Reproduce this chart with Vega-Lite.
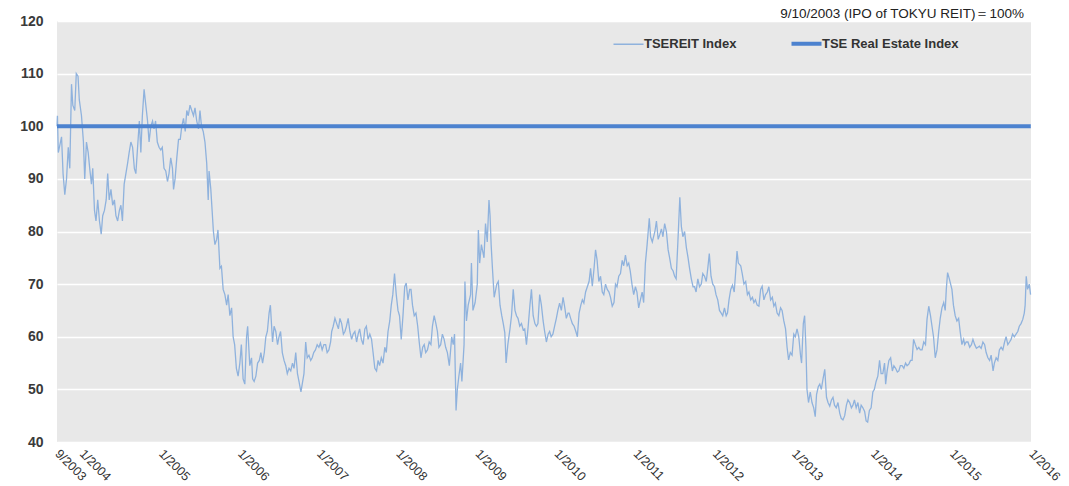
{
  "$schema": "https://vega.github.io/schema/vega-lite/v6.json",
  "width": 974,
  "height": 421,
  "autosize": {"type": "none"},
  "padding": {"left": 57, "top": 21, "right": 38, "bottom": 44},
  "background": "white",
  "config": {
    "view": {"fill": "#e8e8e8", "stroke": null},
    "font": "Liberation Sans"
  },
  "title": {
    "text": "9/10/2003 (IPO of TOKYU  REIT)＝100%",
    "anchor": "end",
    "frame": "group",
    "orient": "top",
    "offset": 3,
    "dx": -7,
    "dy": 9,
    "fontSize": 13.5,
    "fontWeight": "normal",
    "font": "Liberation Sans",
    "color": "#222222"
  },
  "datasets": {
    "reit": [
      {"date": "2003-09-10", "value": 100},
      {"date": "2003-09-12", "value": 102},
      {"date": "2003-09-16", "value": 95},
      {"date": "2003-10-01", "value": 98},
      {"date": "2003-10-08", "value": 91},
      {"date": "2003-10-16", "value": 87},
      {"date": "2003-10-24", "value": 90},
      {"date": "2003-11-01", "value": 96},
      {"date": "2003-11-08", "value": 92},
      {"date": "2003-11-16", "value": 108},
      {"date": "2003-11-22", "value": 104},
      {"date": "2003-12-01", "value": 103},
      {"date": "2003-12-08", "value": 110},
      {"date": "2003-12-16", "value": 109.5},
      {"date": "2003-12-22", "value": 105},
      {"date": "2004-01-01", "value": 102},
      {"date": "2004-01-10", "value": 97},
      {"date": "2004-01-16", "value": 90},
      {"date": "2004-01-24", "value": 97},
      {"date": "2004-02-01", "value": 95},
      {"date": "2004-02-08", "value": 92},
      {"date": "2004-02-16", "value": 89},
      {"date": "2004-02-22", "value": 92},
      {"date": "2004-03-01", "value": 84},
      {"date": "2004-03-08", "value": 82},
      {"date": "2004-03-16", "value": 86},
      {"date": "2004-03-24", "value": 82},
      {"date": "2004-04-01", "value": 79.5},
      {"date": "2004-04-08", "value": 83},
      {"date": "2004-04-16", "value": 84},
      {"date": "2004-04-24", "value": 86},
      {"date": "2004-05-01", "value": 91},
      {"date": "2004-05-08", "value": 86},
      {"date": "2004-05-16", "value": 88},
      {"date": "2004-05-24", "value": 85},
      {"date": "2004-06-01", "value": 86},
      {"date": "2004-06-08", "value": 83},
      {"date": "2004-06-16", "value": 82},
      {"date": "2004-06-24", "value": 84},
      {"date": "2004-07-01", "value": 85},
      {"date": "2004-07-08", "value": 82},
      {"date": "2004-07-16", "value": 89},
      {"date": "2004-07-24", "value": 91},
      {"date": "2004-08-01", "value": 93},
      {"date": "2004-08-08", "value": 95},
      {"date": "2004-08-16", "value": 97},
      {"date": "2004-08-24", "value": 96},
      {"date": "2004-09-01", "value": 92},
      {"date": "2004-09-08", "value": 91},
      {"date": "2004-09-16", "value": 96},
      {"date": "2004-09-24", "value": 101},
      {"date": "2004-10-01", "value": 95},
      {"date": "2004-10-08", "value": 102},
      {"date": "2004-10-16", "value": 107},
      {"date": "2004-10-24", "value": 104},
      {"date": "2004-11-01", "value": 101},
      {"date": "2004-11-08", "value": 97},
      {"date": "2004-11-16", "value": 100},
      {"date": "2004-11-24", "value": 101},
      {"date": "2004-12-01", "value": 99.5},
      {"date": "2004-12-08", "value": 101},
      {"date": "2004-12-16", "value": 97},
      {"date": "2004-12-24", "value": 96},
      {"date": "2005-01-01", "value": 95.5},
      {"date": "2005-01-08", "value": 96},
      {"date": "2005-01-16", "value": 92},
      {"date": "2005-01-24", "value": 91.5},
      {"date": "2005-02-01", "value": 89.5},
      {"date": "2005-02-08", "value": 91},
      {"date": "2005-02-16", "value": 94},
      {"date": "2005-02-24", "value": 92},
      {"date": "2005-03-01", "value": 88},
      {"date": "2005-03-08", "value": 90},
      {"date": "2005-03-16", "value": 94},
      {"date": "2005-03-24", "value": 97.5},
      {"date": "2005-04-01", "value": 97.5},
      {"date": "2005-04-08", "value": 100},
      {"date": "2005-04-16", "value": 101.5},
      {"date": "2005-04-24", "value": 99},
      {"date": "2005-05-01", "value": 103},
      {"date": "2005-05-08", "value": 102},
      {"date": "2005-05-16", "value": 104},
      {"date": "2005-05-24", "value": 103},
      {"date": "2005-06-01", "value": 102},
      {"date": "2005-06-08", "value": 103.5},
      {"date": "2005-06-16", "value": 101},
      {"date": "2005-06-24", "value": 99.5},
      {"date": "2005-07-01", "value": 103},
      {"date": "2005-07-08", "value": 100},
      {"date": "2005-07-16", "value": 99},
      {"date": "2005-07-24", "value": 97},
      {"date": "2005-08-01", "value": 93},
      {"date": "2005-08-08", "value": 86},
      {"date": "2005-08-12", "value": 91.5},
      {"date": "2005-08-20", "value": 88},
      {"date": "2005-09-01", "value": 80},
      {"date": "2005-09-08", "value": 77.5},
      {"date": "2005-09-16", "value": 78.5},
      {"date": "2005-09-22", "value": 80.3},
      {"date": "2005-10-01", "value": 73},
      {"date": "2005-10-08", "value": 73.4},
      {"date": "2005-10-16", "value": 69},
      {"date": "2005-10-24", "value": 68},
      {"date": "2005-11-01", "value": 66},
      {"date": "2005-11-08", "value": 68},
      {"date": "2005-11-16", "value": 64},
      {"date": "2005-11-24", "value": 65.5},
      {"date": "2005-12-01", "value": 60},
      {"date": "2005-12-08", "value": 58.5},
      {"date": "2005-12-16", "value": 54},
      {"date": "2005-12-24", "value": 52.5},
      {"date": "2006-01-01", "value": 55},
      {"date": "2006-01-08", "value": 58.5},
      {"date": "2006-01-16", "value": 52},
      {"date": "2006-01-24", "value": 51},
      {"date": "2006-02-01", "value": 60},
      {"date": "2006-02-06", "value": 62},
      {"date": "2006-02-16", "value": 54.5},
      {"date": "2006-02-24", "value": 56},
      {"date": "2006-03-01", "value": 52},
      {"date": "2006-03-08", "value": 51.5},
      {"date": "2006-03-16", "value": 52.5},
      {"date": "2006-03-24", "value": 55},
      {"date": "2006-04-01", "value": 55.5},
      {"date": "2006-04-08", "value": 57},
      {"date": "2006-04-16", "value": 55},
      {"date": "2006-04-24", "value": 57},
      {"date": "2006-05-01", "value": 60},
      {"date": "2006-05-08", "value": 61},
      {"date": "2006-05-16", "value": 64.5},
      {"date": "2006-05-22", "value": 66},
      {"date": "2006-06-01", "value": 59},
      {"date": "2006-06-08", "value": 62},
      {"date": "2006-06-16", "value": 61},
      {"date": "2006-06-24", "value": 58.5},
      {"date": "2006-07-01", "value": 60},
      {"date": "2006-07-08", "value": 61},
      {"date": "2006-07-16", "value": 57},
      {"date": "2006-07-24", "value": 55.5},
      {"date": "2006-08-01", "value": 54.5},
      {"date": "2006-08-08", "value": 53},
      {"date": "2006-08-16", "value": 54},
      {"date": "2006-08-24", "value": 53.5},
      {"date": "2006-09-01", "value": 55},
      {"date": "2006-09-08", "value": 54},
      {"date": "2006-09-16", "value": 57},
      {"date": "2006-09-24", "value": 53},
      {"date": "2006-10-01", "value": 51.5},
      {"date": "2006-10-10", "value": 49.5},
      {"date": "2006-10-16", "value": 51},
      {"date": "2006-10-24", "value": 53},
      {"date": "2006-11-01", "value": 59},
      {"date": "2006-11-08", "value": 56},
      {"date": "2006-11-16", "value": 56.5},
      {"date": "2006-11-24", "value": 55.5},
      {"date": "2006-12-01", "value": 56},
      {"date": "2006-12-08", "value": 57},
      {"date": "2006-12-16", "value": 57.5},
      {"date": "2006-12-24", "value": 58.5},
      {"date": "2007-01-01", "value": 58},
      {"date": "2007-01-08", "value": 58.8},
      {"date": "2007-01-16", "value": 57.5},
      {"date": "2007-01-24", "value": 58.5},
      {"date": "2007-02-01", "value": 58.5},
      {"date": "2007-02-08", "value": 57},
      {"date": "2007-02-16", "value": 57.5},
      {"date": "2007-02-24", "value": 59},
      {"date": "2007-03-01", "value": 61},
      {"date": "2007-03-08", "value": 62},
      {"date": "2007-03-16", "value": 63.5},
      {"date": "2007-03-24", "value": 62.5},
      {"date": "2007-04-01", "value": 61.5},
      {"date": "2007-04-08", "value": 63.5},
      {"date": "2007-04-16", "value": 62.5},
      {"date": "2007-04-24", "value": 60.5},
      {"date": "2007-05-01", "value": 61},
      {"date": "2007-05-08", "value": 62},
      {"date": "2007-05-16", "value": 63.5},
      {"date": "2007-05-24", "value": 61},
      {"date": "2007-06-01", "value": 59.5},
      {"date": "2007-06-08", "value": 60.5},
      {"date": "2007-06-16", "value": 61},
      {"date": "2007-06-24", "value": 59},
      {"date": "2007-07-01", "value": 60.5},
      {"date": "2007-07-08", "value": 61.5},
      {"date": "2007-07-16", "value": 59.5},
      {"date": "2007-07-24", "value": 58.5},
      {"date": "2007-08-01", "value": 61.5},
      {"date": "2007-08-08", "value": 62},
      {"date": "2007-08-16", "value": 59.5},
      {"date": "2007-08-24", "value": 60.5},
      {"date": "2007-09-01", "value": 59.5},
      {"date": "2007-09-08", "value": 57},
      {"date": "2007-09-16", "value": 54},
      {"date": "2007-09-24", "value": 53.5},
      {"date": "2007-10-01", "value": 55.5},
      {"date": "2007-10-08", "value": 54.5},
      {"date": "2007-10-16", "value": 56},
      {"date": "2007-10-24", "value": 55},
      {"date": "2007-11-01", "value": 58},
      {"date": "2007-11-08", "value": 57},
      {"date": "2007-11-16", "value": 61},
      {"date": "2007-11-24", "value": 63},
      {"date": "2007-12-01", "value": 66},
      {"date": "2007-12-08", "value": 68},
      {"date": "2007-12-16", "value": 72},
      {"date": "2007-12-24", "value": 68},
      {"date": "2008-01-01", "value": 65},
      {"date": "2008-01-08", "value": 64},
      {"date": "2008-01-16", "value": 59.5},
      {"date": "2008-01-24", "value": 64},
      {"date": "2008-02-01", "value": 69.5},
      {"date": "2008-02-08", "value": 70.2},
      {"date": "2008-02-16", "value": 67},
      {"date": "2008-02-24", "value": 69},
      {"date": "2008-03-01", "value": 69},
      {"date": "2008-03-08", "value": 66},
      {"date": "2008-03-16", "value": 64},
      {"date": "2008-03-24", "value": 64.5},
      {"date": "2008-04-01", "value": 62},
      {"date": "2008-04-08", "value": 59},
      {"date": "2008-04-16", "value": 56},
      {"date": "2008-04-24", "value": 58},
      {"date": "2008-05-01", "value": 58.5},
      {"date": "2008-05-08", "value": 57},
      {"date": "2008-05-16", "value": 57.5},
      {"date": "2008-05-24", "value": 59},
      {"date": "2008-06-01", "value": 58.5},
      {"date": "2008-06-08", "value": 62},
      {"date": "2008-06-16", "value": 64},
      {"date": "2008-06-24", "value": 62.5},
      {"date": "2008-07-01", "value": 61},
      {"date": "2008-07-08", "value": 58},
      {"date": "2008-07-16", "value": 58.5},
      {"date": "2008-07-24", "value": 60.5},
      {"date": "2008-08-01", "value": 59.5},
      {"date": "2008-08-08", "value": 58},
      {"date": "2008-08-16", "value": 57},
      {"date": "2008-08-25", "value": 54.5},
      {"date": "2008-09-05", "value": 60},
      {"date": "2008-09-12", "value": 58.5},
      {"date": "2008-09-18", "value": 60.5},
      {"date": "2008-09-25", "value": 46},
      {"date": "2008-10-01", "value": 50},
      {"date": "2008-10-08", "value": 52.5},
      {"date": "2008-10-16", "value": 55},
      {"date": "2008-10-22", "value": 51.5},
      {"date": "2008-11-01", "value": 58.5},
      {"date": "2008-11-05", "value": 70.5},
      {"date": "2008-11-12", "value": 63},
      {"date": "2008-11-20", "value": 66},
      {"date": "2008-12-01", "value": 68},
      {"date": "2008-12-05", "value": 74},
      {"date": "2008-12-12", "value": 65},
      {"date": "2008-12-22", "value": 66.5},
      {"date": "2009-01-01", "value": 70},
      {"date": "2009-01-06", "value": 80.3},
      {"date": "2009-01-12", "value": 74},
      {"date": "2009-01-20", "value": 77.5},
      {"date": "2009-02-01", "value": 75},
      {"date": "2009-02-08", "value": 81.5},
      {"date": "2009-02-16", "value": 78},
      {"date": "2009-02-24", "value": 86},
      {"date": "2009-03-01", "value": 83},
      {"date": "2009-03-06", "value": 77.5},
      {"date": "2009-03-12", "value": 73},
      {"date": "2009-03-20", "value": 67.5},
      {"date": "2009-04-01", "value": 70},
      {"date": "2009-04-08", "value": 70.5},
      {"date": "2009-04-16", "value": 66},
      {"date": "2009-04-24", "value": 64},
      {"date": "2009-05-01", "value": 62.5},
      {"date": "2009-05-08", "value": 60.8},
      {"date": "2009-05-14", "value": 55},
      {"date": "2009-05-22", "value": 58.5},
      {"date": "2009-06-01", "value": 61.5},
      {"date": "2009-06-08", "value": 64},
      {"date": "2009-06-16", "value": 69},
      {"date": "2009-06-24", "value": 65},
      {"date": "2009-07-01", "value": 64},
      {"date": "2009-07-08", "value": 63.5},
      {"date": "2009-07-16", "value": 62},
      {"date": "2009-07-24", "value": 62.5},
      {"date": "2009-08-01", "value": 61.3},
      {"date": "2009-08-08", "value": 61.5},
      {"date": "2009-08-16", "value": 58.5},
      {"date": "2009-08-24", "value": 62},
      {"date": "2009-09-01", "value": 66},
      {"date": "2009-09-08", "value": 69},
      {"date": "2009-09-16", "value": 64},
      {"date": "2009-09-24", "value": 62.5},
      {"date": "2009-10-01", "value": 62},
      {"date": "2009-10-08", "value": 62.5},
      {"date": "2009-10-16", "value": 68},
      {"date": "2009-10-24", "value": 66},
      {"date": "2009-11-01", "value": 63},
      {"date": "2009-11-08", "value": 61},
      {"date": "2009-11-16", "value": 59},
      {"date": "2009-11-24", "value": 60.5},
      {"date": "2009-12-01", "value": 61},
      {"date": "2009-12-08", "value": 60},
      {"date": "2009-12-16", "value": 60.5},
      {"date": "2009-12-24", "value": 62},
      {"date": "2010-01-01", "value": 63.5},
      {"date": "2010-01-08", "value": 65},
      {"date": "2010-01-16", "value": 66.4},
      {"date": "2010-01-24", "value": 65},
      {"date": "2010-02-01", "value": 67.5},
      {"date": "2010-02-08", "value": 65.8},
      {"date": "2010-02-16", "value": 63.5},
      {"date": "2010-02-24", "value": 64.5},
      {"date": "2010-03-01", "value": 64.5},
      {"date": "2010-03-08", "value": 63.5},
      {"date": "2010-03-16", "value": 62.5},
      {"date": "2010-03-24", "value": 62},
      {"date": "2010-04-01", "value": 61},
      {"date": "2010-04-08", "value": 60},
      {"date": "2010-04-16", "value": 64.5},
      {"date": "2010-04-24", "value": 66},
      {"date": "2010-05-01", "value": 67},
      {"date": "2010-05-08", "value": 66.4},
      {"date": "2010-05-16", "value": 68.5},
      {"date": "2010-05-24", "value": 69.5},
      {"date": "2010-06-01", "value": 70.5},
      {"date": "2010-06-08", "value": 73},
      {"date": "2010-06-16", "value": 69.6},
      {"date": "2010-06-24", "value": 73},
      {"date": "2010-07-01", "value": 76.5},
      {"date": "2010-07-08", "value": 74.6},
      {"date": "2010-07-16", "value": 70.5},
      {"date": "2010-07-24", "value": 71.5},
      {"date": "2010-08-01", "value": 68.5},
      {"date": "2010-08-08", "value": 68},
      {"date": "2010-08-16", "value": 70},
      {"date": "2010-08-24", "value": 69},
      {"date": "2010-09-01", "value": 68.5},
      {"date": "2010-09-08", "value": 67.5},
      {"date": "2010-09-16", "value": 65.8},
      {"date": "2010-09-24", "value": 66.5},
      {"date": "2010-10-01", "value": 70},
      {"date": "2010-10-08", "value": 69.5},
      {"date": "2010-10-16", "value": 71.5},
      {"date": "2010-10-24", "value": 72},
      {"date": "2010-11-01", "value": 74.5},
      {"date": "2010-11-08", "value": 73.5},
      {"date": "2010-11-16", "value": 75.5},
      {"date": "2010-11-24", "value": 73.5},
      {"date": "2010-12-01", "value": 74},
      {"date": "2010-12-08", "value": 72.5},
      {"date": "2010-12-16", "value": 70},
      {"date": "2010-12-24", "value": 68},
      {"date": "2011-01-01", "value": 69.5},
      {"date": "2011-01-08", "value": 68.5},
      {"date": "2011-01-16", "value": 65.5},
      {"date": "2011-01-24", "value": 67},
      {"date": "2011-02-01", "value": 68.5},
      {"date": "2011-02-08", "value": 66.5},
      {"date": "2011-02-16", "value": 74},
      {"date": "2011-02-24", "value": 77.5},
      {"date": "2011-03-01", "value": 80},
      {"date": "2011-03-06", "value": 82.5},
      {"date": "2011-03-12", "value": 79},
      {"date": "2011-03-20", "value": 78},
      {"date": "2011-04-01", "value": 80},
      {"date": "2011-04-08", "value": 82},
      {"date": "2011-04-16", "value": 78.5},
      {"date": "2011-04-24", "value": 79.5},
      {"date": "2011-05-01", "value": 80.5},
      {"date": "2011-05-08", "value": 79},
      {"date": "2011-05-16", "value": 81.5},
      {"date": "2011-05-24", "value": 80},
      {"date": "2011-06-01", "value": 76.5},
      {"date": "2011-06-08", "value": 75},
      {"date": "2011-06-16", "value": 73},
      {"date": "2011-06-24", "value": 72.5},
      {"date": "2011-07-01", "value": 71.5},
      {"date": "2011-07-08", "value": 71},
      {"date": "2011-07-16", "value": 78},
      {"date": "2011-07-25", "value": 86.5},
      {"date": "2011-08-01", "value": 81},
      {"date": "2011-08-08", "value": 79},
      {"date": "2011-08-16", "value": 80},
      {"date": "2011-08-24", "value": 77},
      {"date": "2011-09-01", "value": 75},
      {"date": "2011-09-08", "value": 73},
      {"date": "2011-09-16", "value": 71},
      {"date": "2011-09-24", "value": 69.5},
      {"date": "2011-10-01", "value": 69.5},
      {"date": "2011-10-08", "value": 68.5},
      {"date": "2011-10-16", "value": 71},
      {"date": "2011-10-24", "value": 69.5},
      {"date": "2011-11-01", "value": 70},
      {"date": "2011-11-08", "value": 72},
      {"date": "2011-11-16", "value": 71.5},
      {"date": "2011-11-24", "value": 70.5},
      {"date": "2011-12-01", "value": 73},
      {"date": "2011-12-08", "value": 75.8},
      {"date": "2011-12-16", "value": 71.5},
      {"date": "2011-12-24", "value": 70},
      {"date": "2012-01-01", "value": 69.5},
      {"date": "2012-01-08", "value": 68},
      {"date": "2012-01-16", "value": 67},
      {"date": "2012-01-24", "value": 65},
      {"date": "2012-02-01", "value": 64.5},
      {"date": "2012-02-08", "value": 64},
      {"date": "2012-02-16", "value": 65.5},
      {"date": "2012-02-24", "value": 64},
      {"date": "2012-03-01", "value": 64.5},
      {"date": "2012-03-08", "value": 67},
      {"date": "2012-03-16", "value": 69},
      {"date": "2012-03-24", "value": 69.8},
      {"date": "2012-04-01", "value": 68.5},
      {"date": "2012-04-08", "value": 72.5},
      {"date": "2012-04-14", "value": 76.3},
      {"date": "2012-04-20", "value": 74},
      {"date": "2012-05-01", "value": 73.5},
      {"date": "2012-05-08", "value": 72},
      {"date": "2012-05-16", "value": 70},
      {"date": "2012-05-24", "value": 70.5},
      {"date": "2012-06-01", "value": 68},
      {"date": "2012-06-08", "value": 68.5},
      {"date": "2012-06-16", "value": 67},
      {"date": "2012-06-24", "value": 67.5},
      {"date": "2012-07-01", "value": 66.5},
      {"date": "2012-07-08", "value": 67},
      {"date": "2012-07-16", "value": 66},
      {"date": "2012-07-24", "value": 65.8},
      {"date": "2012-08-01", "value": 69},
      {"date": "2012-08-08", "value": 69.6},
      {"date": "2012-08-16", "value": 67},
      {"date": "2012-08-24", "value": 68},
      {"date": "2012-09-01", "value": 68.5},
      {"date": "2012-09-08", "value": 69.5},
      {"date": "2012-09-16", "value": 67},
      {"date": "2012-09-24", "value": 67.5},
      {"date": "2012-10-01", "value": 65.8},
      {"date": "2012-10-08", "value": 66.4},
      {"date": "2012-10-16", "value": 64.5},
      {"date": "2012-10-24", "value": 64},
      {"date": "2012-11-01", "value": 65.5},
      {"date": "2012-11-08", "value": 65},
      {"date": "2012-11-16", "value": 63},
      {"date": "2012-11-24", "value": 61.5},
      {"date": "2012-12-01", "value": 58},
      {"date": "2012-12-08", "value": 55.6},
      {"date": "2012-12-16", "value": 57},
      {"date": "2012-12-24", "value": 56.5},
      {"date": "2013-01-01", "value": 60.5},
      {"date": "2013-01-08", "value": 60},
      {"date": "2013-01-16", "value": 61.5},
      {"date": "2013-01-24", "value": 60},
      {"date": "2013-02-01", "value": 56.5},
      {"date": "2013-02-06", "value": 55},
      {"date": "2013-02-14", "value": 62.5},
      {"date": "2013-02-20", "value": 64},
      {"date": "2013-02-26", "value": 58},
      {"date": "2013-03-03", "value": 50},
      {"date": "2013-03-10", "value": 47.5},
      {"date": "2013-03-18", "value": 49.5},
      {"date": "2013-03-26", "value": 47.5},
      {"date": "2013-04-03", "value": 46.5},
      {"date": "2013-04-10", "value": 44.8},
      {"date": "2013-04-16", "value": 49},
      {"date": "2013-04-24", "value": 50.5},
      {"date": "2013-05-01", "value": 51},
      {"date": "2013-05-08", "value": 50},
      {"date": "2013-05-16", "value": 52},
      {"date": "2013-05-24", "value": 53.8},
      {"date": "2013-06-01", "value": 48.5},
      {"date": "2013-06-08", "value": 47.5},
      {"date": "2013-06-16", "value": 46.8},
      {"date": "2013-06-24", "value": 48},
      {"date": "2013-07-01", "value": 48.5},
      {"date": "2013-07-08", "value": 47},
      {"date": "2013-07-16", "value": 46.5},
      {"date": "2013-07-24", "value": 47.5},
      {"date": "2013-08-01", "value": 45.5},
      {"date": "2013-08-08", "value": 44.5},
      {"date": "2013-08-16", "value": 44.2},
      {"date": "2013-08-24", "value": 45},
      {"date": "2013-09-01", "value": 47},
      {"date": "2013-09-08", "value": 48},
      {"date": "2013-09-16", "value": 47.5},
      {"date": "2013-09-24", "value": 46.5},
      {"date": "2013-10-01", "value": 47},
      {"date": "2013-10-08", "value": 48},
      {"date": "2013-10-16", "value": 46.5},
      {"date": "2013-10-24", "value": 47.5},
      {"date": "2013-11-01", "value": 45.5},
      {"date": "2013-11-08", "value": 47},
      {"date": "2013-11-16", "value": 46.5},
      {"date": "2013-11-24", "value": 45.8},
      {"date": "2013-12-01", "value": 44},
      {"date": "2013-12-08", "value": 43.8},
      {"date": "2013-12-16", "value": 46},
      {"date": "2013-12-24", "value": 46.5},
      {"date": "2014-01-01", "value": 49.5},
      {"date": "2014-01-08", "value": 50},
      {"date": "2014-01-16", "value": 51.5},
      {"date": "2014-01-24", "value": 52.5},
      {"date": "2014-02-01", "value": 55.5},
      {"date": "2014-02-08", "value": 53},
      {"date": "2014-02-16", "value": 53},
      {"date": "2014-02-24", "value": 55},
      {"date": "2014-03-01", "value": 51},
      {"date": "2014-03-08", "value": 53.5},
      {"date": "2014-03-16", "value": 55.5},
      {"date": "2014-03-24", "value": 56},
      {"date": "2014-04-01", "value": 53.5},
      {"date": "2014-04-08", "value": 54.5},
      {"date": "2014-04-16", "value": 54},
      {"date": "2014-04-24", "value": 53.3},
      {"date": "2014-05-01", "value": 53.5},
      {"date": "2014-05-08", "value": 54.5},
      {"date": "2014-05-16", "value": 54.5},
      {"date": "2014-05-24", "value": 54},
      {"date": "2014-06-01", "value": 55},
      {"date": "2014-06-08", "value": 54.5},
      {"date": "2014-06-16", "value": 54.8},
      {"date": "2014-06-24", "value": 55.5},
      {"date": "2014-07-01", "value": 55.5},
      {"date": "2014-07-08", "value": 59.5},
      {"date": "2014-07-16", "value": 58.5},
      {"date": "2014-07-24", "value": 57.6},
      {"date": "2014-08-01", "value": 58},
      {"date": "2014-08-08", "value": 57.5},
      {"date": "2014-08-16", "value": 57.5},
      {"date": "2014-08-24", "value": 59},
      {"date": "2014-09-01", "value": 58.5},
      {"date": "2014-09-08", "value": 63.3},
      {"date": "2014-09-16", "value": 65.8},
      {"date": "2014-09-24", "value": 64},
      {"date": "2014-10-01", "value": 62},
      {"date": "2014-10-08", "value": 60},
      {"date": "2014-10-16", "value": 56},
      {"date": "2014-10-24", "value": 57.5},
      {"date": "2014-11-01", "value": 61},
      {"date": "2014-11-08", "value": 63.5},
      {"date": "2014-11-16", "value": 65.5},
      {"date": "2014-11-24", "value": 66.5},
      {"date": "2014-12-01", "value": 65},
      {"date": "2014-12-06", "value": 69},
      {"date": "2014-12-12", "value": 72.2},
      {"date": "2014-12-20", "value": 71},
      {"date": "2015-01-01", "value": 69},
      {"date": "2015-01-08", "value": 66},
      {"date": "2015-01-16", "value": 64},
      {"date": "2015-01-24", "value": 63},
      {"date": "2015-02-01", "value": 63.5},
      {"date": "2015-02-08", "value": 61},
      {"date": "2015-02-16", "value": 58.5},
      {"date": "2015-02-24", "value": 59.5},
      {"date": "2015-03-01", "value": 58.5},
      {"date": "2015-03-08", "value": 59},
      {"date": "2015-03-16", "value": 59},
      {"date": "2015-03-24", "value": 58},
      {"date": "2015-04-01", "value": 58.5},
      {"date": "2015-04-08", "value": 59.5},
      {"date": "2015-04-16", "value": 58.5},
      {"date": "2015-04-24", "value": 57.8},
      {"date": "2015-05-01", "value": 58},
      {"date": "2015-05-08", "value": 58.2},
      {"date": "2015-05-16", "value": 57.8},
      {"date": "2015-05-24", "value": 59},
      {"date": "2015-06-01", "value": 58.5},
      {"date": "2015-06-08", "value": 57},
      {"date": "2015-06-16", "value": 56},
      {"date": "2015-06-24", "value": 55.5},
      {"date": "2015-07-01", "value": 56.5},
      {"date": "2015-07-10", "value": 53.5},
      {"date": "2015-07-16", "value": 55},
      {"date": "2015-07-24", "value": 56},
      {"date": "2015-08-01", "value": 55.5},
      {"date": "2015-08-08", "value": 57.5},
      {"date": "2015-08-16", "value": 58},
      {"date": "2015-08-24", "value": 57.5},
      {"date": "2015-09-01", "value": 59},
      {"date": "2015-09-08", "value": 60},
      {"date": "2015-09-16", "value": 58.5},
      {"date": "2015-09-24", "value": 59},
      {"date": "2015-10-01", "value": 59.5},
      {"date": "2015-10-08", "value": 60.5},
      {"date": "2015-10-16", "value": 60},
      {"date": "2015-10-24", "value": 60.5},
      {"date": "2015-11-01", "value": 61},
      {"date": "2015-11-08", "value": 62},
      {"date": "2015-11-16", "value": 62.5},
      {"date": "2015-11-24", "value": 63.3},
      {"date": "2015-12-01", "value": 64.5},
      {"date": "2015-12-05", "value": 66},
      {"date": "2015-12-10", "value": 71.5},
      {"date": "2015-12-16", "value": 69},
      {"date": "2015-12-24", "value": 70},
      {"date": "2015-12-30", "value": 68}
    ],
    "tse": [
      {"date": "2003-09-10", "value": 100},
      {"date": "2015-12-31", "value": 100}
    ]
  },
  "encoding": {
    "x": {
      "field": "date",
      "type": "temporal",
      "scale": {"type": "utc", "domain": [{"year": 2003, "month": 9, "date": 10, "utc": true}, {"year": 2016, "month": 1, "date": 1, "utc": true}]},
      "axis": {
        "title": null,
        "values": [
          {"year": 2003, "month": 9, "date": 10, "utc": true},
          {"year": 2004, "month": 1, "date": 1, "utc": true},
          {"year": 2005, "month": 1, "date": 1, "utc": true},
          {"year": 2006, "month": 1, "date": 1, "utc": true},
          {"year": 2007, "month": 1, "date": 1, "utc": true},
          {"year": 2008, "month": 1, "date": 1, "utc": true},
          {"year": 2009, "month": 1, "date": 1, "utc": true},
          {"year": 2010, "month": 1, "date": 1, "utc": true},
          {"year": 2011, "month": 1, "date": 1, "utc": true},
          {"year": 2012, "month": 1, "date": 1, "utc": true},
          {"year": 2013, "month": 1, "date": 1, "utc": true},
          {"year": 2014, "month": 1, "date": 1, "utc": true},
          {"year": 2015, "month": 1, "date": 1, "utc": true},
          {"year": 2016, "month": 1, "date": 1, "utc": true}
        ],
        "labelExpr": "utcFormat(datum.value, '%-m/%Y')",
        "labelAngle": 45,
        "labelAlign": "left",
        "labelBaseline": "top",
        "labelPadding": 5,
        "labelOffset": 4,
        "labelFont": "Liberation Sans",
        "labelFontSize": 12.5,
        "labelColor": "#333333",
        "labelOverlap": false,
        "labelBound": false,
        "labelFlush": false,
        "domain": false,
        "ticks": false,
        "grid": false
      }
    },
    "y": {
      "field": "value",
      "type": "quantitative",
      "scale": {"domain": [40, 120], "nice": false, "zero": false},
      "axis": {
        "title": null,
        "values": [40, 50, 60, 70, 80, 90, 100, 110, 120],
        "labelFont": "Liberation Sans",
        "labelFontSize": 14,
        "labelFontWeight": "bold",
        "labelColor": "#3a3a3a",
        "labelPadding": 14,
        "domain": false,
        "ticks": false,
        "grid": true,
        "gridColor": "#ffffff",
        "gridWidth": 1.4
      }
    },
    "color": {
      "type": "nominal",
      "scale": {"domain": ["TSEREIT Index", "TSE Real Estate Index"], "range": ["#8fb2dd", "#4c82cf"]},
      "legend": {
        "title": null,
        "orient": "none",
        "direction": "horizontal",
        "legendX": 565,
        "legendY": 16,
        "symbolType": "stroke",
        "symbolSize": 900,
        "symbolStrokeWidth": 1.5,
        "labelFont": "Liberation Sans",
        "labelFontSize": 13,
        "labelFontWeight": "bold",
        "labelColor": "#333333",
        "labelOffset": 9,
        "columnPadding": 46,
        "padding": 0,
        "encode": {
          "symbols": {"update": {"strokeWidth": {"signal": "datum.value === 'TSE Real Estate Index' ? 4 : 1.5"}}}
        }
      }
    }
  },
  "layer": [
    {
      "data": {"name": "reit"},
      "mark": {"type": "line", "strokeWidth": 1.3, "interpolate": "linear"},
      "encoding": {
        "color": {"datum": "TSEREIT Index"}
      }
    },
    {
      "data": {"name": "tse"},
      "mark": {"type": "line", "strokeWidth": 4},
      "encoding": {
        "color": {"datum": "TSE Real Estate Index"}
      }
    }
  ]
}
